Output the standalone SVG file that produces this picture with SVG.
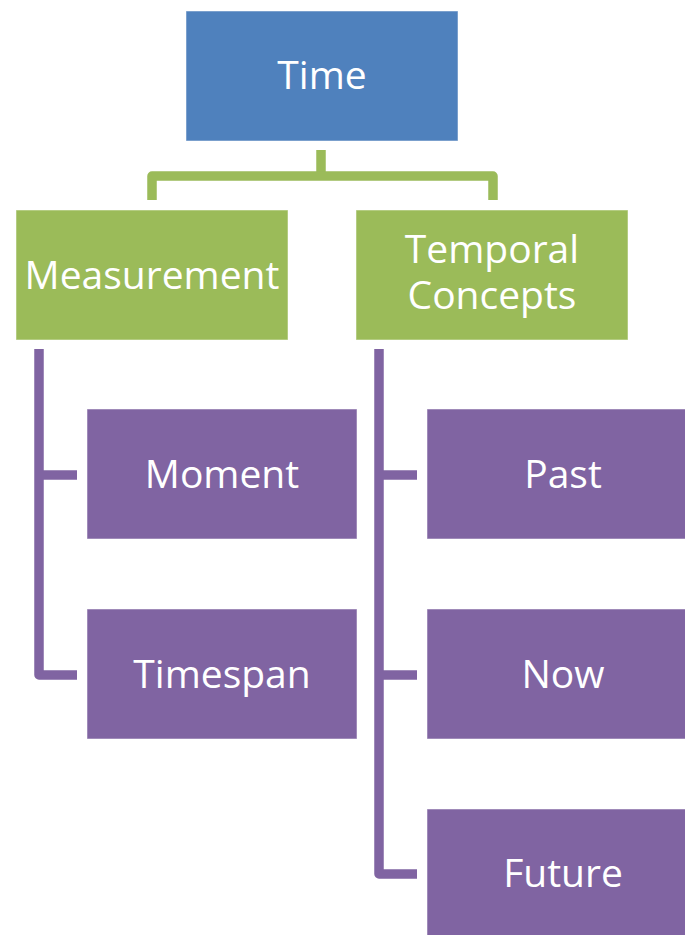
<svg xmlns="http://www.w3.org/2000/svg" width="685" height="935" viewBox="0 0 685 935">
  <style>
    .box { stroke: #ffffff; stroke-opacity: 0.5; stroke-width: 1; }
    .blue { fill: #4F81BD; }
    .green { fill: #9BBB59; }
    .purple { fill: #8064A2; }
    .label { font-family: "Open Sans", "Liberation Sans", sans-serif; font-size: 39px; fill: #ffffff; text-anchor: middle; }
    .link { fill: none; stroke-width: 9.5; stroke-linejoin: round; }
    .link-green { stroke: #9BBB59; }
    .link-purple { stroke: #8064A2; }
  </style>
  <rect width="685" height="935" fill="#ffffff"/>

  <g id="connectors">
    <path class="link link-green" d="M321,150 V176"/>
    <path class="link link-green" d="M152,200 V176 H493 V200"/>
    <path class="link link-purple" d="M39,349 V675 H77"/>
    <path class="link link-purple" d="M39,475 H77"/>
    <path class="link link-purple" d="M379,349 V874 H417"/>
    <path class="link link-purple" d="M379,475 H417"/>
    <path class="link link-purple" d="M379,675 H417"/>
  </g>

  <g id="time">
    <rect class="box blue" x="186" y="11" width="272" height="130"/>
    <text class="label" x="322" y="89">Time</text>
  </g>

  <g id="measurement">
    <rect class="box green" x="16" y="210" width="272" height="130"/>
    <text class="label" x="152" y="289">Measurement</text>
  </g>

  <g id="temporal-concepts">
    <rect class="box green" x="356" y="210" width="272" height="130"/>
    <text class="label" x="492" y="263">Temporal<tspan x="492" dy="46">Concepts</tspan></text>
  </g>

  <g id="moment">
    <rect class="box purple" x="87" y="409" width="270" height="130"/>
    <text class="label" x="222" y="488">Moment</text>
  </g>

  <g id="timespan">
    <rect class="box purple" x="87" y="609" width="270" height="130"/>
    <text class="label" x="222" y="688">Timespan</text>
  </g>

  <g id="past">
    <rect class="box purple" x="427" y="409" width="272" height="130"/>
    <text class="label" x="563" y="488">Past</text>
  </g>

  <g id="now">
    <rect class="box purple" x="427" y="609" width="272" height="130"/>
    <text class="label" x="563" y="688">Now</text>
  </g>

  <g id="future">
    <rect class="box purple" x="427" y="809" width="272" height="130"/>
    <text class="label" x="563" y="887">Future</text>
  </g>
</svg>
